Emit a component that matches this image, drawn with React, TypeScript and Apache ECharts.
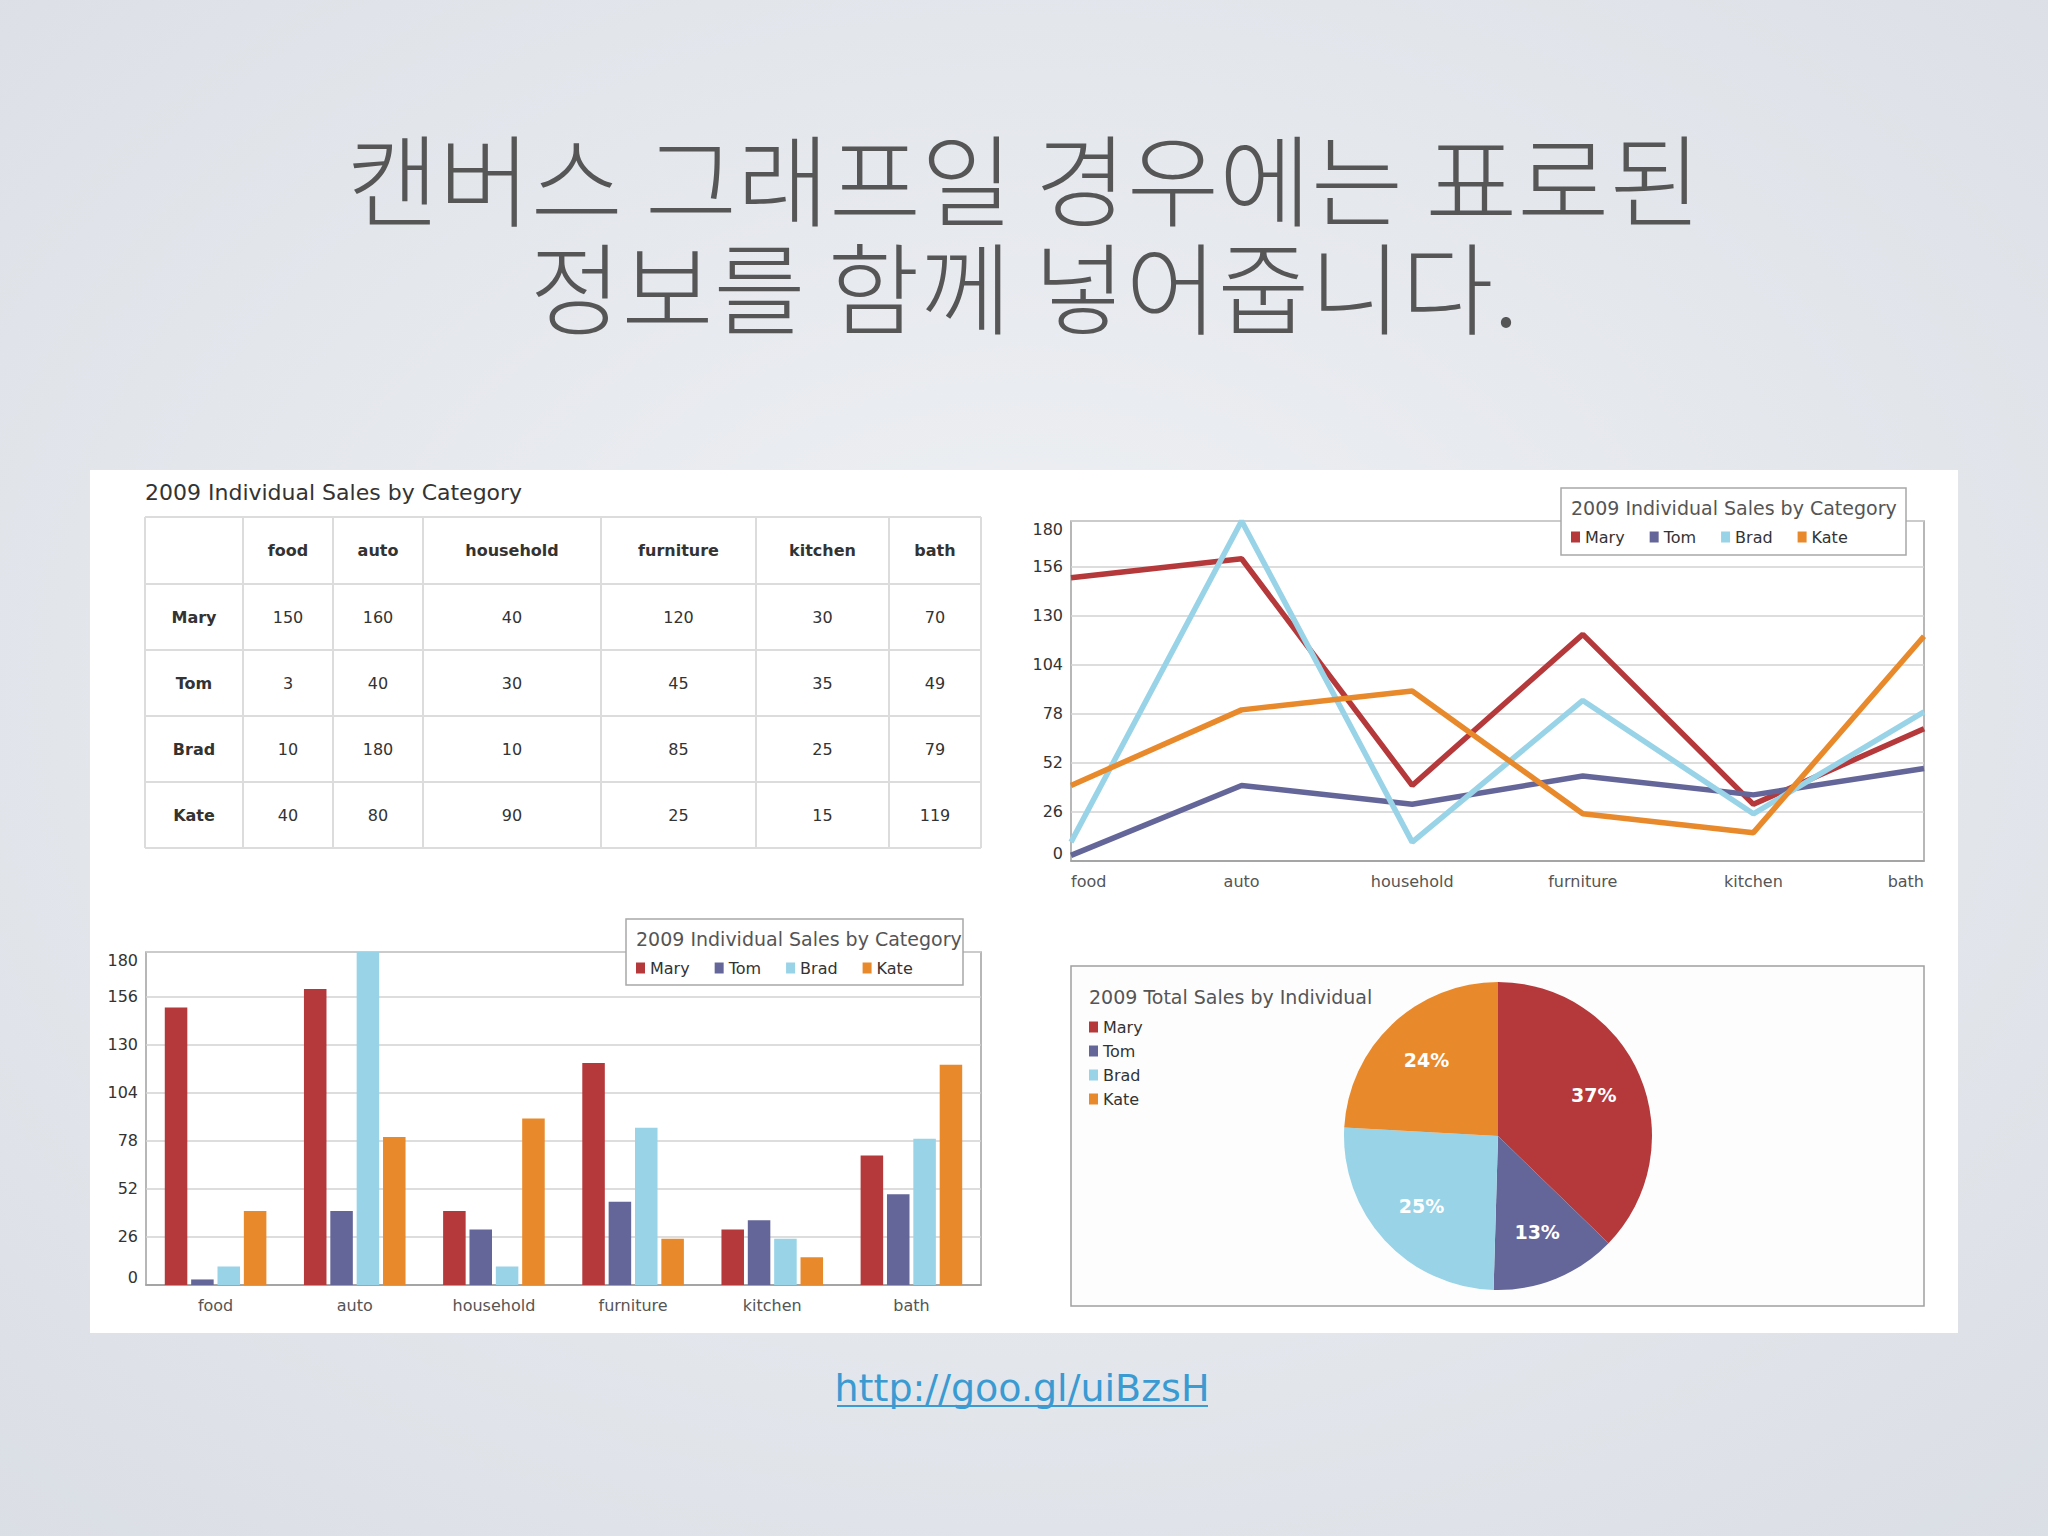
import { useEffect, useRef } from 'react';
import * as echarts from 'echarts';

// Slide content
const titleLines = ['캔버스 그래프일 경우에는 표로된', '정보를 함께 넣어줍니다.'];
const linkText = 'http://goo.gl/uiBzsH';
const tableTitle = '2009 Individual Sales by Category';
const legendTitle = '2009 Individual Sales by Category';
const pieTitle = '2009 Total Sales by Individual';

// Data
const categories = ['food', 'auto', 'household', 'furniture', 'kitchen', 'bath'];
const people = ['Mary', 'Tom', 'Brad', 'Kate'];
const mary = [150, 160, 40, 120, 30, 70];
const tom = [3, 40, 30, 45, 35, 49];
const brad = [10, 180, 10, 85, 25, 79];
const kate = [40, 80, 90, 25, 15, 119];
const salesByPerson = [mary, tom, brad, kate];

const yMax = 180;
const yStep = 26;

const COLORS = ['#b5383b', '#646699', '#98d3e7', '#e8892b'];
const FONT = "'DejaVu Sans', Verdana, sans-serif";
const KR_FONT = "'Noto Sans CJK KR', sans-serif";

// table layout (pixels)
const TABLE_X = 145;
const TABLE_Y = 517;
const COL_W = [98, 90, 90, 178, 155, 133, 92];
const HEAD_H = 67;
const ROW_H = 66;

function buildTable(): any[] {
  const els: any[] = [];
  const edges = [TABLE_X];
  COL_W.forEach((w) => edges.push(edges[edges.length - 1] + w));
  const rowEdges = [TABLE_Y, TABLE_Y + HEAD_H];
  people.forEach(() => rowEdges.push(rowEdges[rowEdges.length - 1] + ROW_H));
  const x0 = edges[0];
  const x1 = edges[edges.length - 1];
  const y0 = rowEdges[0];
  const y1 = rowEdges[rowEdges.length - 1];
  const lineStyle = { stroke: '#dcdcdc', lineWidth: 2 };
  edges.forEach((x) =>
    els.push({ type: 'line', z: 1, shape: { x1: x, y1: y0, x2: x, y2: y1 }, style: lineStyle }),
  );
  rowEdges.forEach((y) =>
    els.push({ type: 'line', z: 1, shape: { x1: x0, y1: y, x2: x1, y2: y }, style: lineStyle }),
  );
  const cx = (c: number) => (edges[c] + edges[c + 1]) / 2;
  const cy = (r: number) => (rowEdges[r] + rowEdges[r + 1]) / 2;
  const txt = (x: number, y: number, text: string, bold: boolean) => ({
    type: 'text',
    z: 2,
    x,
    y,
    style: {
      text,
      fill: '#333',
      fontFamily: FONT,
      fontSize: 16,
      fontWeight: bold ? 'bold' : 'normal',
      align: 'center',
      verticalAlign: 'middle',
    },
  });
  categories.forEach((c, i) => els.push(txt(cx(i + 1), cy(0), c, true)));
  people.forEach((p, r) => {
    els.push(txt(cx(0), cy(r + 1), p, true));
    salesByPerson[r].forEach((v, i) => els.push(txt(cx(i + 1), cy(r + 1), String(v), false)));
  });
  els.push({
    type: 'text',
    z: 2,
    x: TABLE_X,
    y: 492,
    style: { text: tableTitle, fill: '#333', fontFamily: FONT, fontSize: 22, verticalAlign: 'middle' },
  });
  return els;
}

function legendBox(x: number, y: number, w: number, h: number): any[] {
  return [
    {
      type: 'rect',
      z: 5,
      shape: { x, y, width: w, height: h },
      style: { fill: '#fff', stroke: '#a8a8a8', lineWidth: 1.5 },
    },
    {
      type: 'text',
      z: 6,
      x: x + 10,
      y: y + 20,
      style: { text: legendTitle, fill: '#555', fontFamily: FONT, fontSize: 19, verticalAlign: 'middle' },
    },
  ];
}

const axisLabelY = {
  fontSize: 16,
  fontFamily: FONT,
  color: '#333',
  margin: 8,
  verticalAlignMinLabel: 'bottom',
  verticalAlignMaxLabel: 'top',
};

export default function App() {
  const ref = useRef<HTMLDivElement | null>(null);

  useEffect(() => {
    if (!ref.current) return;
    const chart = echarts.init(ref.current, null, { renderer: 'svg' });

    const totals = salesByPerson.map((arr) => arr.reduce((a, b) => a + b, 0));
    const pieData = people.map((p, i) => ({ name: p, value: totals[i] }));

    const legendCommon = {
      data: people,
      icon: 'rect',
      itemWidth: 9,
      itemHeight: 11,
      selectedMode: false,
      z: 7,
      textStyle: { fontFamily: FONT, fontSize: 16, color: '#333', lineHeight: 16 },
    };

    chart.setOption({
      animation: false,
      color: COLORS,
      backgroundColor: new echarts.graphic.RadialGradient(0.5, 0.45, 0.8, [
        { offset: 0, color: '#eff1f4' },
        { offset: 1, color: '#d9dde4' },
      ]),
      textStyle: { fontFamily: FONT },
      graphic: [
        {
          type: 'text',
          x: 1024,
          y: 229,
          style: {
            text: titleLines.join('\n'),
            fill: '#565656',
            fontFamily: KR_FONT,
            fontWeight: 300,
            fontSize: 100,
            lineHeight: 108,
            align: 'center',
            verticalAlign: 'middle',
          },
        },
        {
          type: 'rect',
          z: -1,
          shape: { x: 90, y: 470, width: 1868, height: 863 },
          style: { fill: '#ffffff' },
        },
        ...buildTable(),
        ...legendBox(1561, 488, 345, 67),
        ...legendBox(626, 919, 337, 66),
        {
          type: 'rect',
          z: 0,
          shape: { x: 1071, y: 966, width: 853, height: 340 },
          style: { fill: '#fdfdfd', stroke: '#a0a0a0', lineWidth: 1.5 },
        },
        {
          type: 'text',
          z: 6,
          x: 1089,
          y: 997,
          style: { text: pieTitle, fill: '#555', fontFamily: FONT, fontSize: 19, verticalAlign: 'middle' },
        },
        {
          type: 'text',
          x: 1022,
          y: 1388,
          style: {
            text: linkText,
            fill: '#3a9ad2',
            fontFamily: FONT,
            fontSize: 38,
            align: 'center',
            verticalAlign: 'middle',
          },
        },
        {
          type: 'line',
          shape: { x1: 837, y1: 1406, x2: 1208, y2: 1406 },
          style: { stroke: '#3a9ad2', lineWidth: 2 },
        },
      ],
      legend: [
        { ...legendCommon, left: 1566, top: 524, itemGap: 25 },
        { ...legendCommon, left: 631, top: 955, itemGap: 25 },
        { ...legendCommon, left: 1084, top: 1014, orient: 'vertical', itemGap: 8 },
      ],
      grid: [
        {
          left: 1071,
          top: 521,
          width: 853,
          height: 340,
          show: true,
          backgroundColor: '#fff',
          borderColor: '#a0a0a0',
          borderWidth: 1.5,
        },
        {
          left: 146,
          top: 952,
          width: 835,
          height: 333,
          show: true,
          backgroundColor: '#fff',
          borderColor: '#a0a0a0',
          borderWidth: 1.5,
        },
      ],
      xAxis: [
        {
          type: 'category',
          gridIndex: 0,
          data: categories,
          boundaryGap: false,
          axisLine: { lineStyle: { color: '#999', width: 1.5 } },
          axisTick: { show: false },
          axisLabel: {
            fontSize: 16,
            fontFamily: FONT,
            color: '#555',
            margin: 12,
            alignMinLabel: 'left',
            alignMaxLabel: 'right',
          },
        },
        {
          type: 'category',
          gridIndex: 1,
          data: categories,
          axisLine: { lineStyle: { color: '#999', width: 1.5 } },
          axisTick: { show: false },
          axisLabel: { fontSize: 16, fontFamily: FONT, color: '#555', margin: 12 },
        },
      ],
      yAxis: [0, 1].map((g) => ({
        type: 'value',
        gridIndex: g,
        min: 0,
        max: yMax,
        interval: yStep,
        axisLine: { show: false },
        axisTick: { show: false },
        axisLabel: axisLabelY,
        splitLine: { lineStyle: { color: '#d2d2d2', width: 1.5 } },
      })),
      series: [
        ...people.map((p, i) => ({
          name: p,
          type: 'line',
          xAxisIndex: 0,
          yAxisIndex: 0,
          data: salesByPerson[i],
          symbol: 'none',
          clip: false,
          lineStyle: { width: 5.5, color: COLORS[i] },
          itemStyle: { color: COLORS[i] },
        })),
        ...people.map((p, i) => ({
          name: p,
          type: 'bar',
          xAxisIndex: 1,
          yAxisIndex: 1,
          data: salesByPerson[i],
          barGap: '17%',
          barCategoryGap: '27%',
          itemStyle: { color: COLORS[i] },
        })),
        {
          type: 'pie',
          center: [1498, 1136],
          radius: [0, 154],
          startAngle: 90,
          clockwise: true,
          data: pieData,
          label: { show: false },
          labelLine: { show: false },
          itemStyle: { borderWidth: 0 },
        },
        {
          // transparent ring used only to place the percentage labels
          type: 'pie',
          center: [1498, 1136],
          radius: [0, 202],
          startAngle: 90,
          clockwise: true,
          silent: true,
          data: pieData,
          itemStyle: { color: 'rgba(0,0,0,0)' },
          labelLine: { show: false },
          label: {
            show: true,
            position: 'inside',
            color: '#fff',
            fontFamily: FONT,
            fontWeight: 'bold',
            fontSize: 19,
            formatter: (p: any) => Math.round(p.percent) + '%',
          },
        },
      ],
    });

    return () => chart.dispose();
  }, []);

  return (
    <div
      ref={ref}
      style={{ position: 'absolute', left: 0, top: 0, width: 2048, height: 1536 }}
    />
  );
}
